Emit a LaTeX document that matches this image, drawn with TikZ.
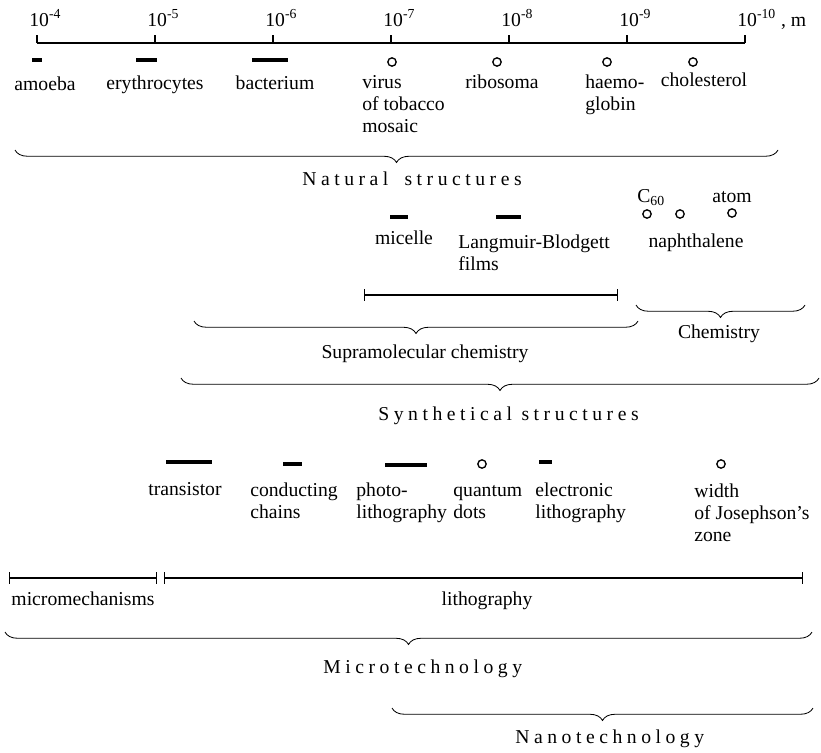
\documentclass[tikz,border=0pt]{standalone}
\usepackage{fontspec}
\setmainfont{Liberation Serif}
\newfontfamily\spacedfont[LetterSpace=23]{Liberation Serif}
\usetikzlibrary{decorations.pathreplacing}

\begin{document}
\begin{tikzpicture}[x=0.6pt, y=-0.6pt,
    lbl/.style = {font=\fontsize{11.8}{13.2}\selectfont, inner sep=0pt, anchor=base},
    lbll/.style = {lbl, anchor=base west, align=left},
    title/.style = {font=\fontsize{11.8}{13.2}\spacedfont, inner sep=0pt, anchor=base west},
    bar/.style = {line width=2.3pt},
    dot/.style = {draw, circle, line width=0.8pt, minimum size=5pt, inner sep=0pt},
    scale line/.style = {line width=0.8pt},
    spanline/.style = {line width=0.7pt, |-|},
    brace/.style = {decorate, decoration={brace, mirror, amplitude=7.5pt}, line width=0.5pt}]
    \useasboundingbox (0,0) rectangle (821,752);

    % the scale
    \coordinate (ax0) at (37,43);
    \coordinate (ax6) at (745,43);
    \draw[scale line] (ax0) -- (ax6);
    \foreach \i/\e in {0/4, 1/5, 2/6, 3/7, 4/8, 5/9} {
        \coordinate (t\i) at (37+118*\i,43);
        \draw[scale line] (t\i) -- ++(0,-8);
        \node[lbl, anchor=base west] (e\i) at (29+118*\i,26) {10\textsuperscript{-\e}};
    }
    \draw[scale line] (ax6) -- ++(0,-8);
    \node[lbl, anchor=base west] (e6) at (737,26) {10\textsuperscript{-10} , m};

    % natural structures (multi-line labels sit on their last line)
    \coordinate (amoeba-a) at (32,60);   \coordinate (amoeba-b) at (42,60);
    \coordinate (eryth-a) at (136,60);   \coordinate (eryth-b) at (157,60);
    \coordinate (bact-a) at (252,60);    \coordinate (bact-b) at (288,60);
    \draw[bar] (amoeba-a) -- (amoeba-b);
    \draw[bar] (eryth-a) -- (eryth-b);
    \draw[bar] (bact-a) -- (bact-b);
    \node[dot] (virus) at (392,62) {};
    \node[dot] (ribo) at (497,62) {};
    \node[dot] (haemo) at (607,62) {};
    \node[dot] (chol) at (693,62) {};
    \node[lbl] (amoeba) at (45,90) {amoeba};
    \node[lbl] (eryth) at (155,89) {erythrocytes};
    \node[lbl] (bact) at (275,89) {bacterium};
    \node[lbll] (virus-l) at (362,132) {virus\\of tobacco\\mosaic};
    \node[lbl] (ribo-l) at (502,88) {ribosoma};
    \node[lbll] (haemo-l) at (585,110) {haemo-\\globin};
    \node[lbl] (chol-l) at (704,86) {cholesterol};

    \coordinate (nat-a) at (15,150);
    \coordinate (nat-b) at (778,150);
    \draw[brace] (nat-a) -- (nat-b);
    \node[title] (natural) at (302,185) {Natural \kern4pt structures};

    % chemistry
    \node[lbl, anchor=base west] (c60) at (637,202) {C\textsubscript{60}};
    \node[lbl, anchor=base west] (atom) at (712,202) {atom};
    \node[dot] (c60-d) at (647,214) {};
    \node[dot] (naph-d) at (680,214) {};
    \node[dot] (atom-d) at (732,213) {};
    \node[lbl] (naph) at (696,247) {naphthalene};
    \coordinate (mic-a) at (390,217);   \coordinate (mic-b) at (408,217);
    \coordinate (lb-a) at (496,217);    \coordinate (lb-b) at (521,217);
    \draw[bar] (mic-a) -- (mic-b);
    \draw[bar] (lb-a) -- (lb-b);
    \node[lbl] (micelle) at (404,244) {micelle};
    \node[lbll] (lb) at (458,270) {Langmuir-Blodgett\\films};

    \coordinate (supra-a) at (364,295);
    \coordinate (supra-b) at (618,295);
    \draw[spanline] (supra-a) -- (supra-b);

    \coordinate (sbr-a) at (194,321);   \coordinate (sbr-b) at (638,321);
    \draw[brace] (sbr-a) -- (sbr-b);
    \node[lbl] (supra) at (425,358) {Supramolecular chemistry};
    \coordinate (cbr-a) at (636,305);   \coordinate (cbr-b) at (805,305);
    \draw[brace] (cbr-a) -- (cbr-b);
    \node[lbl] (chem) at (719,338) {Chemistry};

    \coordinate (syn-a) at (181,378);
    \coordinate (syn-b) at (819,378);
    \draw[brace] (syn-a) -- (syn-b);
    \node[title] (synth) at (378,420) {Synthetical structures};

    % technology
    \coordinate (tr-a) at (166,462);    \coordinate (tr-b) at (212,462);
    \coordinate (cc-a) at (283,464);    \coordinate (cc-b) at (302,464);
    \coordinate (ph-a) at (385,465);    \coordinate (ph-b) at (427,465);
    \coordinate (el-a) at (539,462);    \coordinate (el-b) at (552,462);
    \draw[bar] (tr-a) -- (tr-b);
    \draw[bar] (cc-a) -- (cc-b);
    \draw[bar] (ph-a) -- (ph-b);
    \draw[bar] (el-a) -- (el-b);
    \node[dot] (qd) at (482,464) {};
    \node[dot] (jos) at (721,464) {};
    \node[lbl] (tr) at (185,495) {transistor};
    \node[lbll] (cc) at (250,518) {conducting\\chains};
    \node[lbll] (ph) at (356,518) {photo-\\lithography};
    \node[lbll] (qd-l) at (453,518) {quantum\\dots};
    \node[lbll] (el) at (535,518) {electronic\\lithography};
    \node[lbll] (jos-l) at (694,541) {width\\of Josephson's\\zone};

    \coordinate (mm-a) at (9,578);      \coordinate (mm-b) at (157,578);
    \coordinate (li-a) at (164,578);    \coordinate (li-b) at (803,578);
    \draw[spanline] (mm-a) -- (mm-b);
    \draw[spanline] (li-a) -- (li-b);
    \node[lbl] (mm) at (83,605) {micromechanisms};
    \node[lbl] (li) at (487,605) {lithography};

    \coordinate (mt-a) at (5,632);
    \coordinate (mt-b) at (812,632);
    \draw[brace] (mt-a) -- (mt-b);
    \node[title] (micro) at (323,673) {Microtechnology};

    \coordinate (nt-a) at (392,708);
    \coordinate (nt-b) at (813,708);
    \draw[brace] (nt-a) -- (nt-b);
    \node[title] (nano) at (515,743) {Nanotechnology};
\end{tikzpicture}
\end{document}
